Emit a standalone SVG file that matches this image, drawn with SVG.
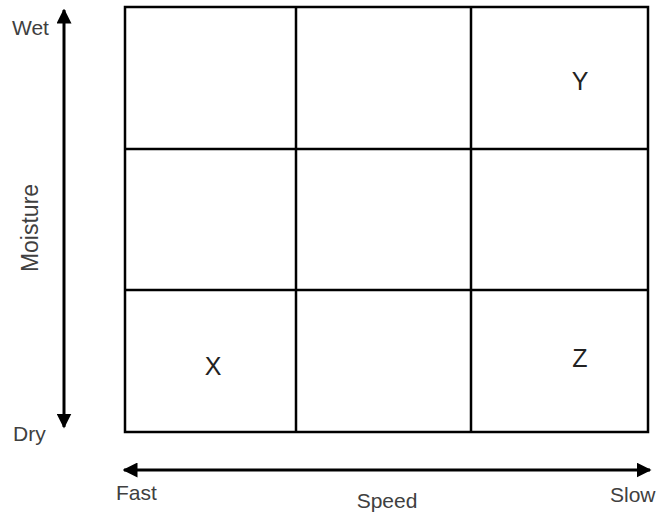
<svg xmlns="http://www.w3.org/2000/svg" width="662" height="517" viewBox="0 0 662 517">
<style>
.grid{fill:none;stroke:#000;stroke-width:2.5}
.ax{stroke:#000;stroke-width:3;fill:none}
.lab{font-family:"Liberation Sans",Arial,sans-serif;font-size:21px;fill:#404040}
.cell{font-family:"Liberation Sans",Arial,sans-serif;font-size:25px;fill:#222;text-anchor:middle}
</style>
<defs>
<marker id="ah" viewBox="0 0 10 10" refX="9" refY="5" markerWidth="5" markerHeight="5" orient="auto" markerUnits="strokeWidth">
<path d="M0,0 L10,5 L0,10 z" fill="#000"/>
</marker>
</defs>
<rect width="662" height="517" fill="#fff"/>
<g id="grid">
<rect class="grid" x="125" y="7" width="523" height="425"/>
<line class="grid" x1="296" y1="7" x2="296" y2="432"/>
<line class="grid" x1="471" y1="7" x2="471" y2="432"/>
<line class="grid" x1="125" y1="149" x2="648" y2="149"/>
<line class="grid" x1="125" y1="290" x2="648" y2="290"/>
</g>
<g id="cells">
<text class="cell" x="580" y="90">Y</text>
<text class="cell" x="213" y="375">X</text>
<text class="cell" x="580" y="367">Z</text>
</g>
<g id="connectors">
<line class="ax" x1="64" y1="220" x2="64" y2="10" marker-end="url(#ah)"/>
<line class="ax" x1="64" y1="220" x2="64" y2="427" marker-end="url(#ah)"/>
<line class="ax" x1="385" y1="470" x2="124" y2="470" marker-end="url(#ah)"/>
<line class="ax" x1="385" y1="470" x2="650" y2="470" marker-end="url(#ah)"/>
</g>
<g id="labels">
<text class="lab" x="12" y="35">Wet</text>
<text class="lab" x="13" y="441">Dry</text>
<text class="lab" x="116" y="500">Fast</text>
<text class="lab" x="610" y="502">Slow</text>
<text class="lab" x="387" y="508" text-anchor="middle">Speed</text>
<text class="lab" transform="translate(38,228) rotate(-90)" text-anchor="middle" style="font-size:23px">Moisture</text>
</g>
</svg>
